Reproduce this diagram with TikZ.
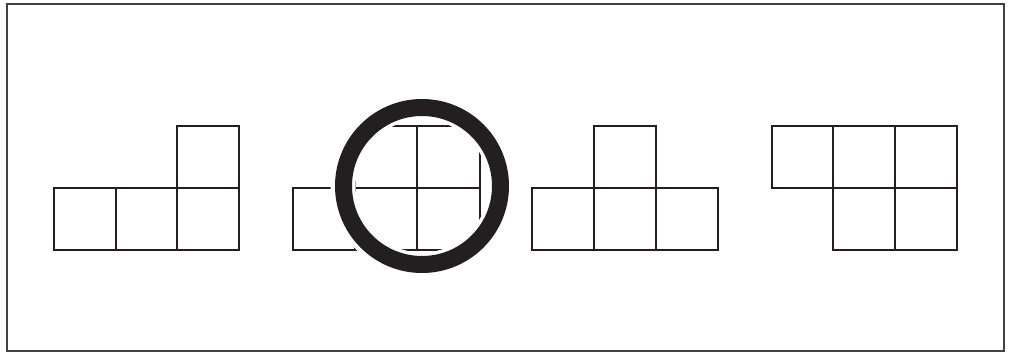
\documentclass[tikz,border=0pt]{standalone}
\begin{document}
\definecolor{ink}{RGB}{35,31,32}
\begin{tikzpicture}[x=1pt,y=-1pt,
  sq/.style={draw=ink, line width=2.4pt, line join=miter},
  frame/.style={draw=ink!85, line width=1.3pt},
  halo/.style={draw=white, line width=25pt},
  ring/.style={draw=ink, line width=17pt}]
\useasboundingbox (0,0) rectangle (1010,354);
\draw[frame] (7,4) rectangle (1004,351);
% figure 1
\draw[sq] (54,188) rectangle (116,250) (116,188) rectangle (177,250)
  (177,188) rectangle (239,250) (177,126) rectangle (239,188);
% figure 2 (under the ring)
\draw[sq] (293,188) rectangle (355,250) (355,188) rectangle (417,250)
  (417,188) rectangle (480,250) (355,126) rectangle (417,188)
  (417,126) rectangle (480,188);
\draw[halo] (422,186) circle (79pt);
\draw[ring] (422,186) circle (78.5pt);
% figure 3
\draw[sq] (532,188) rectangle (594,250) (594,188) rectangle (656,250)
  (656,188) rectangle (718,250) (594,126) rectangle (656,188);
% figure 4
\draw[sq] (772,126) rectangle (833,188) (833,126) rectangle (895,188)
  (895,126) rectangle (957,188) (833,188) rectangle (895,250)
  (895,188) rectangle (957,250);
\end{tikzpicture}
\end{document}
